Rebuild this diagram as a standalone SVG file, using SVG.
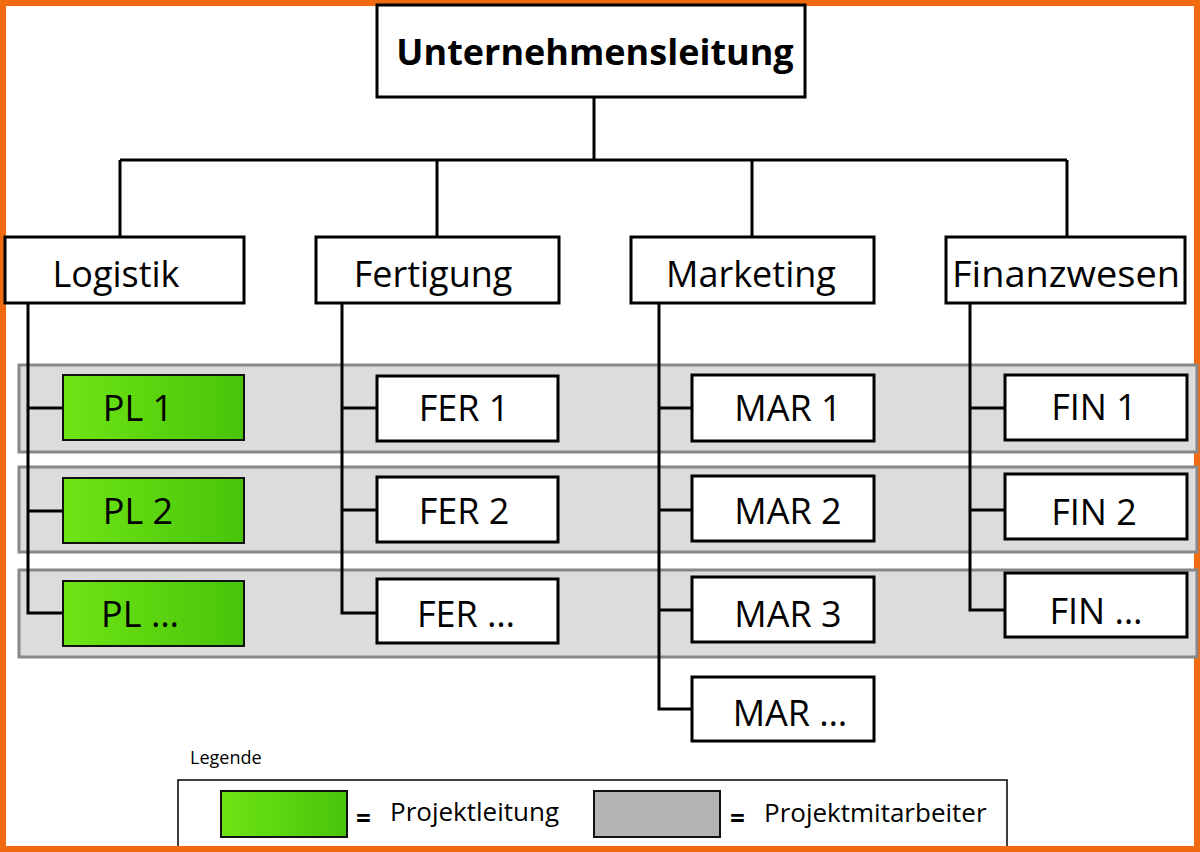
<svg xmlns="http://www.w3.org/2000/svg" width="1200" height="852" viewBox="0 0 1200 852">
<defs>
<linearGradient id="g" x1="0" x2="1" y1="0" y2="0"><stop offset="0" stop-color="#6ee514"/><stop offset="1" stop-color="#48c40a"/></linearGradient>
<style>
.b{fill:#fff;stroke:#000;stroke-width:3}
.gr{fill:url(#g);stroke:#111;stroke-width:2}
.band{fill:#dcdcdc;stroke:#888;stroke-width:3}
.t{font-family:"Open Sans","DejaVu Sans",sans-serif;font-size:36px;fill:#000;text-anchor:middle}
.c{fill:none;stroke:#000;stroke-width:3}
.l{font-family:"Open Sans",sans-serif;font-size:26px}
</style>
</defs>
<rect x="0" y="0" width="1200" height="852" fill="#fff"/>
<rect x="3" y="3" width="1194" height="846" fill="none" stroke="#f26a0f" stroke-width="6"/>
<g id="bands">
<rect class="band" x="19" y="365" width="1178" height="87"/>
<rect class="band" x="19" y="467" width="1178" height="85"/>
<rect class="band" x="19" y="570" width="1178" height="87"/>
</g>
<g id="connectors">
<path class="c" d="M594 97V160M120 160H1067M120 160V237M437 160V237M752 160V237M1067 160V237"/>
<path class="c" d="M28 303V613H63M28 408H63M28 511H63"/>
<path class="c" d="M342 303V613H377M342 408H377M342 510H377"/>
<path class="c" d="M659 303V709H692M659 408H692M659 510H692M659 610H692"/>
<path class="c" d="M970 303V610H1005M970 408H1005M970 510H1005"/>
</g>
<g id="top"><rect class="b" x="377" y="5" width="428" height="92" stroke-width="4"/><text class="t" x="595" y="65" font-weight="bold" font-size="36">Unternehmensleitung</text></g>
<g id="logistik"><rect class="b" x="5" y="237" width="239" height="66"/><text class="t" x="116" y="287">Logistik</text></g>
<g id="fertigung"><rect class="b" x="316" y="237" width="243" height="66"/><text class="t" x="433" y="287">Fertigung</text></g>
<g id="marketing"><rect class="b" x="631" y="237" width="243" height="66"/><text class="t" x="751" y="287">Marketing</text></g>
<g id="finanzwesen"><rect class="b" x="946" y="237" width="239" height="66"/><text class="t" x="1066" y="287" textLength="228" lengthAdjust="spacingAndGlyphs">Finanzwesen</text></g>
<g id="pl1"><rect class="gr" x="63" y="375" width="181" height="65"/><text class="t" x="138" y="421">PL 1</text></g>
<g id="pl2"><rect class="gr" x="63" y="478" width="181" height="65"/><text class="t" x="138" y="524">PL 2</text></g>
<g id="pl3"><rect class="gr" x="63" y="581" width="181" height="65"/><text class="t" x="140" y="627">PL …</text></g>
<g id="fer1"><rect class="b" x="377" y="376" width="181" height="65" stroke-width="2"/><text class="t" x="464" y="421">FER 1</text></g>
<g id="fer2"><rect class="b" x="377" y="477" width="181" height="65" stroke-width="2"/><text class="t" x="464" y="524">FER 2</text></g>
<g id="fer3"><rect class="b" x="377" y="579" width="181" height="64" stroke-width="2"/><text class="t" x="466" y="627">FER …</text></g>
<g id="mar1"><rect class="b" x="692" y="375" width="182" height="66" stroke-width="2"/><text class="t" x="788" y="421">MAR 1</text></g>
<g id="mar2"><rect class="b" x="692" y="476" width="182" height="65" stroke-width="2"/><text class="t" x="788" y="524">MAR 2</text></g>
<g id="mar3"><rect class="b" x="692" y="577" width="182" height="65" stroke-width="2"/><text class="t" x="788" y="627">MAR 3</text></g>
<g id="mar4"><rect class="b" x="692" y="677" width="182" height="64" stroke-width="2"/><text class="t" x="790" y="726">MAR …</text></g>
<g id="fin1"><rect class="b" x="1005" y="375" width="182" height="65" stroke-width="2"/><text class="t" x="1094" y="420">FIN 1</text></g>
<g id="fin2"><rect class="b" x="1005" y="474" width="182" height="65" stroke-width="2"/><text class="t" x="1094" y="525">FIN 2</text></g>
<g id="fin3"><rect class="b" x="1005" y="573" width="182" height="64" stroke-width="2"/><text class="t" x="1096" y="624">FIN …</text></g>
<g id="legend">
<text x="190" y="764" font-family="Open Sans, sans-serif" font-size="18">Legende</text>
<rect x="178" y="780" width="829" height="80" fill="#fff" stroke="#000" stroke-width="1.5"/>
<rect class="gr" x="221" y="791" width="126" height="46"/>
<rect x="594" y="791" width="126" height="46" fill="#b4b4b4" stroke="#111" stroke-width="2"/>
<text class="l" x="356" y="828" font-weight="bold">=</text>
<text class="l" x="390" y="821">Projektleitung</text>
<text class="l" x="730" y="828" font-weight="bold">=</text>
<text class="l" x="764" y="822">Projektmitarbeiter</text>
</g>
<rect x="0" y="846" width="1200" height="6" fill="#f26a0f"/>
</svg>
